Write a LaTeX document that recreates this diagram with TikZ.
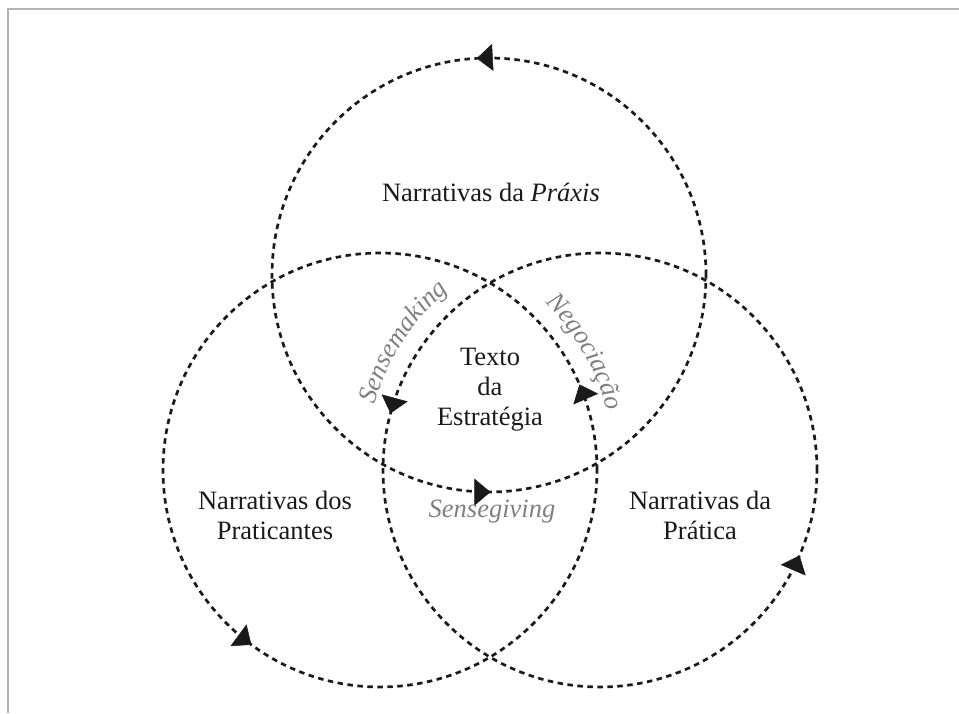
\documentclass[tikz,border=0pt]{standalone}
\usepackage{fontspec}
\setmainfont{Liberation Serif}
\usetikzlibrary{arrows.meta,decorations.markings,decorations.text}
\definecolor{ink}{HTML}{1A1A1A}
\definecolor{gtext}{HTML}{808080}
\definecolor{frame}{HTML}{B4B4B4}
\begin{document}
\begin{tikzpicture}[x=1pt,y=1pt,
  ring/.style={draw=ink, line width=2.7pt, dash pattern=on 5.5pt off 4.5pt},
  lbl/.style={font=\fontsize{26.5}{30}\selectfont, text=ink, align=center, inner sep=0pt},
  glbl/.style={font=\fontsize{26.5}{30}\selectfont\itshape, text=gtext, inner sep=0pt},
  marks/.style 2 args={postaction={decorate}, decoration={markings,
     mark=at position #1 with {\arrow[ink,solid,line width=0.5pt]{Triangle[length=16pt,width=27pt]}},
     mark=at position #2 with {\arrow[ink,solid,line width=0.5pt]{Triangle[length=16pt,width=27pt]}}}}
]
\useasboundingbox (0,0) rectangle (959,713);
% frame lines
\draw[frame, line width=1.5pt] (8,0) -- (8,704) -- (959,704);

% circles
\coordinate (ctop) at (489,438);
\coordinate (cleft) at (380,243);
\coordinate (cright) at (600,243);
\draw[ring, marks={0.259}{0.751}] (ctop) circle[radius=217];
\draw[ring, marks={0.0645}{0.649}] (cleft) circle[radius=217];
\draw[ring, marks={0.458}{0.9356}] (cright) circle[radius=217];

% labels
\node[lbl] (praxis) at (491,521) {Narrativas da \textit{Práxis}};
\node[lbl] (texto) at (490,323) {Texto\\da\\Estratégia};
\node[lbl] (prat) at (275,198) {Narrativas dos\\Praticantes};
\node[lbl] (pratica) at (700,198) {Narrativas da\\Prática};
\node[glbl] (sgiving) at (492,201) {Sensegiving};

% curved grey labels
\path[decorate, decoration={text along path, text align=center,
   text={|\fontsize{26.5}{30}\selectfont\itshape\color{gtext}|Sensemaking}}]
   (cright) ++(177:235) arc[start angle=177, end angle=117, radius=235];
\path[decorate, decoration={text along path, text align=center,
   text={|\fontsize{26.5}{30}\selectfont\itshape\color{gtext}|Negociação}}]
   (cleft) ++(60:235) arc[start angle=60, end angle=0, radius=235];
\end{tikzpicture}
\end{document}
